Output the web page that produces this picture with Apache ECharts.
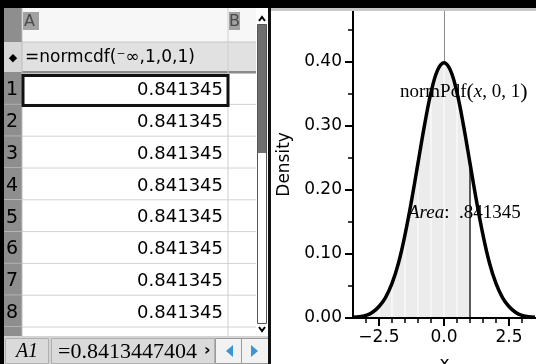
<!DOCTYPE html>
<html><head><meta charset="utf-8">
<script src="https://cdn.jsdelivr.net/npm/echarts@6/dist/echarts.min.js"></script>
<style>html,body{margin:0;padding:0;background:#fff;overflow:hidden}#c{width:536px;height:364px}</style>
</head><body><div id="c"></div>
<script>
// ---- data ----
const xValues = [-3.5,-3.25,-3,-2.75,-2.5,-2.25,-2,-1.75,-1.5,-1.25,-1,-0.75,-0.5,-0.25,0,0.25,0.5,0.75,1,1.25,1.5,1.75,2,2.25,2.5,2.75,3,3.25,3.5];
const density = [0.001,0.002,0.004,0.009,0.018,0.032,0.054,0.086,0.130,0.183,0.242,0.301,0.352,0.387,0.399,0.387,0.352,0.301,0.242,0.183,0.130,0.086,0.054,0.032,0.018,0.009,0.004,0.002,0.001];
const shadeUpper = 1;
const meanX = 0;
const curveLabel = 'normPdf';
const areaValue = '.841345';
const xTickLabels = [-2.5, 0, 2.5];
const xMinorTicks = [-3,-2,-1.5,-1,-0.5,0.5,1,1.5,2,3];
const yTickLabels = [0, 0.1, 0.2, 0.3, 0.4];
const yMinorTicks = [0.05, 0.15, 0.25, 0.35, 0.45];
const shadeGridXs = [-3,-2.5,-2,-1.5,-1,-0.5,0,0.5];
const rowNumbers = [1,2,3,4,5,6,7,8,9];
const cellValues = ['0.841345','0.841345','0.841345','0.841345','0.841345','0.841345','0.841345','0.841345','0.841345'];
const columnNames = ['A','B'];
const formulaText = '=normcdf(\u207B\u221E,1,0,1)';
const cellRef = 'A1';
const entryText = '=0.8413447404';

// ---- build ----
const X_MIN = -3.5, X_MAX = 3.54, Y_MIN = 0, Y_MAX = 0.48;
const curveData = xValues.map((x,i)=>[x, density[i]]);
const shadeData = curveData.filter(p => p[0] <= shadeUpper);
const yAt = x => density[xValues.indexOf(x)];
const fmtX = v => v.toFixed(1).replace('-', '\u2212');
const allXTicks = xTickLabels.concat(xMinorTicks).sort((a,b)=>a-b);
const allYTicks = yTickLabels.concat(yMinorTicks).sort((a,b)=>a-b);
const SANS = 'DejaVu Sans';
const SERIF = 'Liberation Serif';

const g = [];
const rowTop0 = 72.6, rowH = 31.8;
g.push({type:'rect', shape:{x:0,y:0,width:270,height:364}, style:{fill:'#fff'}, z:1});
g.push({type:'rect', shape:{x:22,y:8,width:234,height:34}, style:{fill:'#f7f7f7'}, z:2});
g.push({type:'rect', shape:{x:4,y:42,width:252,height:30}, style:{fill:'#e1e1e1'}, z:2});
g.push({type:'rect', shape:{x:4,y:71,width:252,height:2.5}, style:{fill:'#8a8a8a'}, z:3});
g.push({type:'line', shape:{x1:4,y1:42,x2:256,y2:42}, style:{stroke:'#c4c4c4',lineWidth:1}, z:3});
g.push({type:'rect', shape:{x:4,y:8,width:18,height:34}, style:{fill:'#8e8e8e'}, z:3});
g.push({type:'rect', shape:{x:4,y:42,width:18,height:30}, style:{fill:'#d6d6d6'}, z:3});
g.push({type:'text', style:{text:'\u25C6', x:13, y:58, fill:'#000', font:'11px '+SANS, align:'center', verticalAlign:'middle'}, z:4});
g.push({type:'text', style:{text:formulaText, x:25, y:58, fill:'#000', font:'17px '+SANS, verticalAlign:'middle'}, z:4});
[[columnNames[0],23],[columnNames[1],229]].forEach(([t,x])=>{
  g.push({type:'rect', shape:{x:x,y:12,width:(t==='A'?16:11),height:18}, style:{fill:'#a2a2a2'}, z:3});
  g.push({type:'text', style:{text:t, x:x+(t==='A'?1:0), y:22, fill:'#4a4a4a', font:'16px '+SANS, verticalAlign:'middle'}, z:4});
});
rowNumbers.forEach((n,i)=>{
  const top = rowTop0 + i*rowH;
  g.push({type:'rect', shape:{x:4,y:top,width:18,height:rowH}, style:{fill:'#8e8e8e'}, z:3});
  g.push({type:'line', shape:{x1:4,y1:top+rowH,x2:256,y2:top+rowH}, style:{stroke:'#d2d2d2',lineWidth:1}, z:3});
  g.push({type:'text', style:{text:String(n), x:6, y:top+rowH/2+2, fill:'#000', font:'19px '+SANS, verticalAlign:'middle'}, z:4});
  g.push({type:'text', style:{text:cellValues[i], x:223, y:top+rowH/2+2, fill:'#000', font:'18px '+SANS, align:'right', verticalAlign:'middle'}, z:4});
});
g.push({type:'line', shape:{x1:228,y1:8,x2:228,y2:336}, style:{stroke:'#cfcfcf',lineWidth:1}, z:3});
g.push({type:'line', shape:{x1:22,y1:8,x2:22,y2:336}, style:{stroke:'#bdbdbd',lineWidth:1}, z:3});
g.push({type:'rect', shape:{x:23,y:75.5,width:205,height:30}, style:{fill:'none',stroke:'#111',lineWidth:3}, z:5});
g.push({type:'rect', shape:{x:256,y:8,width:12,height:328}, style:{fill:'#fff'}, z:5});
g.push({type:'rect', shape:{x:257.5,y:24.5,width:9,height:299}, style:{fill:'#fff',stroke:'#555',lineWidth:1}, z:6});
g.push({type:'rect', shape:{x:258,y:25,width:8,height:128}, style:{fill:'#6e6e6e'}, z:7});
g.push({type:'polyline', shape:{points:[[259,21],[262,17],[265,21]]}, style:{stroke:'#000',lineWidth:2,fill:null}, z:7});
g.push({type:'polyline', shape:{points:[[259,327],[262,331],[265,327]]}, style:{stroke:'#000',lineWidth:2,fill:null}, z:7});
g.push({type:'rect', shape:{x:4,y:336,width:266,height:28}, style:{fill:'#d4d4d4'}, z:8});
g.push({type:'rect', shape:{x:5.5,y:338.5,width:43,height:25}, style:{fill:'#dadada',stroke:'#b0b0b0',lineWidth:1}, z:9});
g.push({type:'rect', shape:{x:51.5,y:338.5,width:163,height:25}, style:{fill:'#dadada',stroke:'#b0b0b0',lineWidth:1}, z:9});
g.push({type:'rect', shape:{x:215.5,y:338.5,width:26,height:25}, style:{fill:'#f2f2f2',stroke:'#9a9a9a',lineWidth:1}, z:9});
g.push({type:'rect', shape:{x:241.5,y:338.5,width:27,height:25}, style:{fill:'#f2f2f2',stroke:'#9a9a9a',lineWidth:1}, z:9});
g.push({type:'polygon', shape:{points:[[233,345],[233,357],[226,351]]}, style:{fill:'#3a95d3'}, z:10});
g.push({type:'polygon', shape:{points:[[251,345],[251,357],[258,351]]}, style:{fill:'#3a95d3'}, z:10});
g.push({type:'text', style:{text:cellRef, x:27, y:352, fill:'#000', font:'italic 20px '+SERIF, align:'center', verticalAlign:'middle'}, z:10});
g.push({type:'text', style:{text:entryText, x:58, y:352, fill:'#000', font:'22px '+SERIF, verticalAlign:'middle'}, z:10});
g.push({type:'text', style:{text:'\u203A', x:204, y:351, fill:'#000', font:'bold 16px '+SANS, verticalAlign:'middle'}, z:10});
g.push({type:'rect', shape:{x:0,y:0,width:4,height:364}, style:{fill:'#000'}, z:12});
g.push({type:'rect', shape:{x:268,y:0,width:3,height:364}, style:{fill:'#111'}, z:12});
g.push({type:'rect', shape:{x:0,y:0,width:536,height:8}, style:{fill:'#000'}, z:12});
g.push({type:'rect', shape:{x:271,y:8,width:265,height:3}, style:{fill:'#c6c6c6'}, z:12});
g.push({type:'text', z:20, style:{x:400, y:92, verticalAlign:'middle',
  text:'{a|'+curveLabel+'}{p|(}{i|x}{a|, 0, 1}{p|)}',
  rich:{a:{fontFamily:SERIF,fontSize:19,fill:'#000'}, i:{fontFamily:SERIF,fontStyle:'italic',fontSize:19,fill:'#000'}, p:{fontFamily:SERIF,fontSize:22,fill:'#000'}}}});
g.push({type:'text', z:20, style:{x:408, y:213, verticalAlign:'middle',
  text:'{i|Area}{a|:  '+areaValue+'}',
  rich:{a:{fontFamily:SERIF,fontSize:19,fill:'#000'}, i:{fontFamily:SERIF,fontStyle:'italic',fontSize:19,fill:'#000'}}}});

const chart = echarts.init(document.getElementById('c'), null, {renderer:'canvas'});
chart.setOption({
  animation:false,
  backgroundColor:'#fff',
  grid:{left:353, top:10.8, right:0, bottom:46, containLabel:false, outerBoundsMode:'none'},
  xAxis:{
    type:'value', min:X_MIN, max:X_MAX, z:6,
    axisLine:{show:true, onZero:false, lineStyle:{color:'#000',width:2}},
    axisTick:{show:true, customValues:allXTicks, length:5, lineStyle:{color:'#000',width:1.5}},
    axisLabel:{customValues:xTickLabels, formatter:fmtX, fontSize:17, fontFamily:SANS, color:'#000', margin:11},
    splitLine:{show:false},
    name:'x', nameLocation:'middle', nameGap:38, nameTextStyle:{fontSize:17, fontFamily:SANS, color:'#000'}
  },
  yAxis:{
    type:'value', min:Y_MIN, max:Y_MAX, z:6,
    axisLine:{show:true, onZero:false, lineStyle:{color:'#000',width:2}},
    axisTick:{show:true, customValues:allYTicks, length:5, lineStyle:{color:'#000',width:1.5}},
    axisLabel:{customValues:yTickLabels, formatter:v=>v.toFixed(2), fontSize:17, fontFamily:SANS, color:'#000', margin:11},
    splitLine:{show:false},
    name:'Density', nameLocation:'middle', nameGap:60, nameTextStyle:{fontSize:17, fontFamily:SANS, color:'#000'}
  },
  series:[
    {type:'line', data:shadeData, smooth:0.4, symbol:'none', z:2, lineStyle:{width:0}, areaStyle:{color:'#ececec', opacity:1},
     markLine:{silent:true, symbol:'none', label:{show:false}, z:3,
       data:[
         [{coord:[shadeUpper,0],lineStyle:{color:'#5a5a5a',width:2,type:'solid'}},{coord:[shadeUpper,yAt(shadeUpper)]}],
         [{coord:[meanX,yAt(meanX)],lineStyle:{color:'#8c8c8c',width:1,type:'solid'}},{coord:[meanX,Y_MAX]}]
       ]}},
    {type:'custom', z:3, data:shadeGridXs.map(x=>[x, yAt(x)]),
     renderItem:(params, api)=>{
       const p0 = api.coord([api.value(0),0]);
       const p1 = api.coord([api.value(0),api.value(1)]);
       return {type:'line', shape:{x1:p0[0],y1:p0[1]-1,x2:p1[0],y2:p1[1]+3}, style:{stroke:'#fff',lineWidth:1}};
     }},
    {type:'line', data:curveData, smooth:0.4, symbol:'none', z:4, lineStyle:{color:'#000',width:3.5}},
    {type:'custom', clip:false, z:8, data:xTickLabels.map(x=>[x, Y_MIN]),
     renderItem:(params, api)=>{
       const p = api.coord([api.value(0), api.value(1)]);
       return {type:'line', shape:{x1:p[0],y1:p[1]-1,x2:p[0],y2:p[1]+8}, style:{stroke:'#000',lineWidth:2}};
     }},
    {type:'custom', clip:false, z:8, data:yTickLabels.map(y=>[X_MIN, y]),
     renderItem:(params, api)=>{
       const p = api.coord([api.value(0), api.value(1)]);
       return {type:'line', shape:{x1:p[0]-8,y1:p[1],x2:p[0]+1,y2:p[1]}, style:{stroke:'#000',lineWidth:2}};
     }}
  ],
  graphic:{elements:g}
});
</script></body></html>
